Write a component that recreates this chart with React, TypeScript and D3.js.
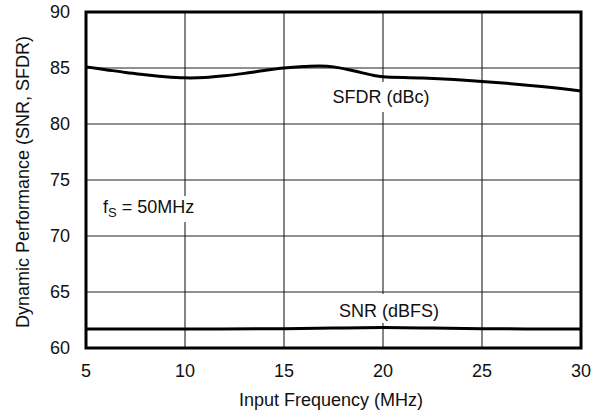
import React from "react";
import * as d3 from "d3";

const sfdrFreq = [5, 6, 7, 8, 9, 10, 11, 12, 13, 14, 15, 16, 16.8, 17.5, 18.5, 19.5, 20, 22, 25, 28, 30];
const sfdrVals = [85.1, 84.85, 84.6, 84.4, 84.22, 84.12, 84.15, 84.3, 84.52, 84.78, 85.0, 85.13, 85.18, 85.1, 84.75, 84.35, 84.22, 84.1, 83.8, 83.35, 82.95];
const snrFreq = [5, 10, 15, 17.5, 20, 22.5, 25, 30];
const snrVals = [61.7, 61.7, 61.72, 61.78, 61.82, 61.78, 61.72, 61.7];
const xTicks = [5, 10, 15, 20, 25, 30];
const yTicks = [60, 65, 70, 75, 80, 85, 90];

const W = 591;
const H = 412;
const FONT = "'Liberation Sans', Arial, Helvetica, sans-serif";

export default function App() {
  const x = d3.scaleLinear().domain([5, 30]).range([86, 581]);
  const y = d3.scaleLinear().domain([60, 90]).range([348, 12]);

  const line = d3
    .line<[number, number]>()
    .x((d) => x(d[0]))
    .y((d) => y(d[1]))
    .curve(d3.curveCatmullRom.alpha(0.5));

  const sfdr = line(sfdrFreq.map((f, i) => [f, sfdrVals[i]] as [number, number])) || "";
  const snr = line(snrFreq.map((f, i) => [f, snrVals[i]] as [number, number])) || "";

  const fs = 18;

  return (
    <svg
      width={W}
      height={H}
      style={{ position: "absolute", left: 0, top: 0, background: "#fff" }}
      fontFamily={FONT}
    >
      <rect x={0} y={0} width={W} height={H} fill="#fff" />
      {/* grid */}
      {xTicks.map((t) => (
        <line key={"gx" + t} x1={x(t)} x2={x(t)} y1={y(90)} y2={y(60)} stroke="#222" strokeWidth={1.1} />
      ))}
      {yTicks.map((t) => (
        <line key={"gy" + t} x1={x(5)} x2={x(30)} y1={y(t)} y2={y(t)} stroke="#222" strokeWidth={1.1} />
      ))}

      {/* label backgrounds */}
      <rect x={100} y={196} width={100} height={26} fill="#fff" />
      <rect x={328} y={82} width={108} height={30} fill="#fff" />
      <rect x={333} y={294} width={112} height={29} fill="#fff" />

      {/* curves */}
      <path d={sfdr} fill="none" stroke="#000" strokeWidth={3} />
      <path d={snr} fill="none" stroke="#000" strokeWidth={3} />

      {/* frame */}
      <rect x={x(5)} y={y(90)} width={x(30) - x(5)} height={y(60) - y(90)} fill="none" stroke="#000" strokeWidth={3} />

      {/* tick labels */}
      {yTicks.map((t) => (
        <text key={"ty" + t} x={70} y={y(t)} dy="0.36em" textAnchor="end" fontSize={fs} fill="#111">
          {t}
        </text>
      ))}
      {xTicks.map((t) => (
        <text key={"tx" + t} x={x(t)} y={377} textAnchor="middle" fontSize={fs} fill="#111">
          {t}
        </text>
      ))}

      {/* axis titles */}
      <text x={331} y={406} textAnchor="middle" fontSize={fs} fill="#111">
        Input Frequency (MHz)
      </text>
      <text
        transform={`translate(29,182) rotate(-90)`}
        textAnchor="middle"
        fontSize={fs}
        fill="#111"
      >
        Dynamic Performance (SNR, SFDR)
      </text>

      {/* annotations */}
      <text x={381} y={103} textAnchor="middle" fontSize={fs} fill="#111">
        SFDR (dBc)
      </text>
      <text x={389} y={317} textAnchor="middle" fontSize={fs} fill="#111">
        SNR (dBFS)
      </text>
      <text x={103} y={213} fontSize={fs} fill="#111">
        f<tspan fontSize={13} dy={4}>S</tspan>
        <tspan dy={-4}> = 50MHz</tspan>
      </text>
    </svg>
  );
}
